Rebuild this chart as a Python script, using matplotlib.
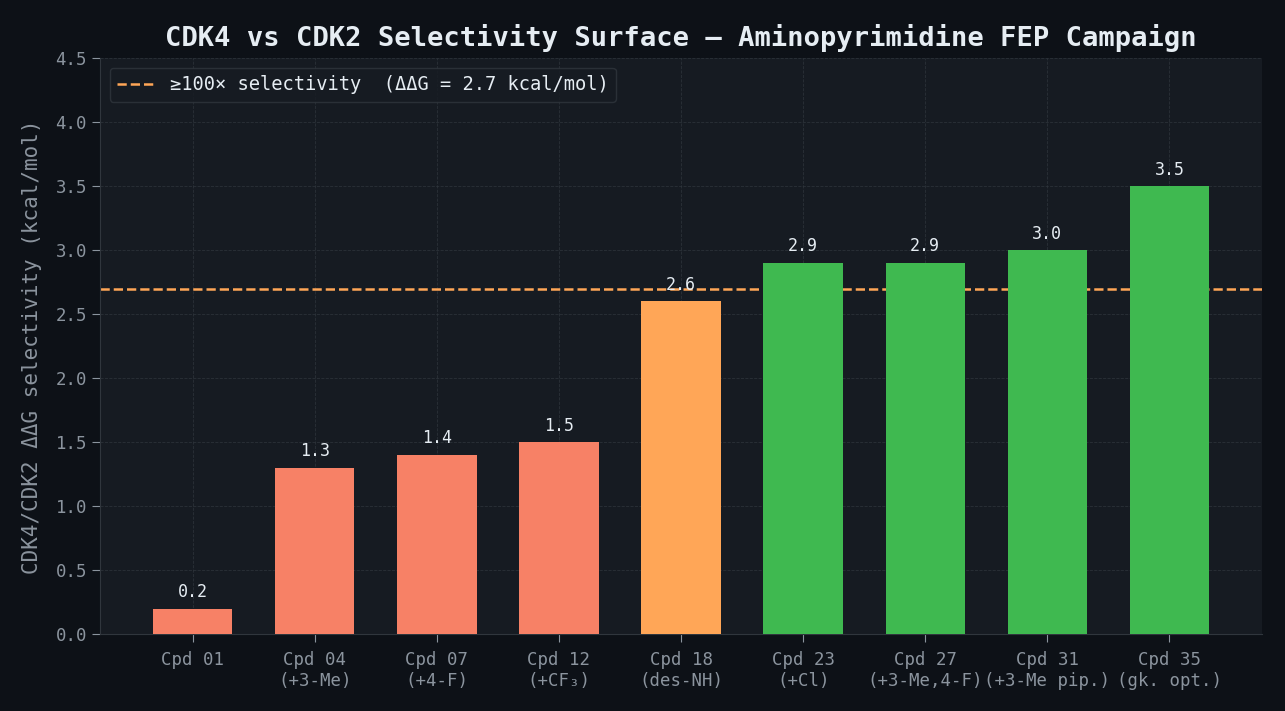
import numpy as np
import matplotlib.pyplot as plt

# selectivity data for the FEP campaign
compounds = ["Cpd 01", "Cpd 04\n(+3-Me)", "Cpd 07\n(+4-F)", "Cpd 12\n(+CF\u2083)",
             "Cpd 18\n(des-NH)", "Cpd 23\n(+Cl)", "Cpd 27\n(+3-Me,4-F)",
             "Cpd 31\n(+3-Me pip.)", "Cpd 35\n(gk. opt.)"]
ddg = [0.2, 1.3, 1.4, 1.5, 2.6, 2.9, 2.9, 3.0, 3.5]
threshold = 2.7

BG = "#0d1117"
PANEL = "#161b22"
GRID = "#30363d"
TEXT = "#e6edf3"
MUTED = "#8b949e"

def bar_color(v):
    if v >= threshold:
        return "#3fb950"
    if v >= 2.0:
        return "#ffa657"
    return "#f78166"

plt.rcParams['font.family'] = ['DejaVu Sans Mono', 'DejaVu Sans']

fig, ax = plt.subplots(figsize=(12.85, 7.11), dpi=100)
fig.patch.set_facecolor(BG)
ax.set_facecolor(PANEL)

x = np.arange(len(compounds))
bars = ax.bar(x, ddg, width=0.65, color=[bar_color(v) for v in ddg], zorder=3)
ax.axhline(threshold, color="#ffa657", ls="--", lw=1.8, zorder=2,
           label="\u2265100\u00d7 selectivity  (\u0394\u0394G = 2.7 kcal/mol)")

for b, v in zip(bars, ddg):
    ax.text(b.get_x() + b.get_width() / 2, v + 0.06, f"{v:.1f}",
            ha="center", va="bottom", color=TEXT, fontsize=12, zorder=4)

ax.set_ylim(0, 4.5)
ax.set_yticks(np.arange(0, 4.51, 0.5))
ax.set_xticks(x)
ax.set_xticklabels(compounds)
ax.tick_params(colors=MUTED, labelsize=12.5, length=6)
ax.tick_params(axis="x", pad=6)
ax.grid(True, color=GRID, ls="--", lw=0.6, alpha=0.8, zorder=0)
for s in ["top", "right"]:
    ax.spines[s].set_visible(False)
for s in ["left", "bottom"]:
    ax.spines[s].set_color(GRID)

ax.set_ylabel("CDK4/CDK2 \u0394\u0394G selectivity (kcal/mol)", color=MUTED,
              fontsize=15, labelpad=10)
ax.set_title("CDK4 vs CDK2 Selectivity Surface \u2014 Aminopyrimidine FEP Campaign",
             color=TEXT, fontsize=19.5, fontweight="bold", pad=9)

leg = ax.legend(loc="upper left", facecolor=PANEL, edgecolor=GRID, fontsize=13.5)
for t in leg.get_texts():
    t.set_color(TEXT)

fig.subplots_adjust(left=0.078, right=0.982, top=0.918, bottom=0.108)
fig.savefig("out.png", dpi=100, facecolor=BG)
